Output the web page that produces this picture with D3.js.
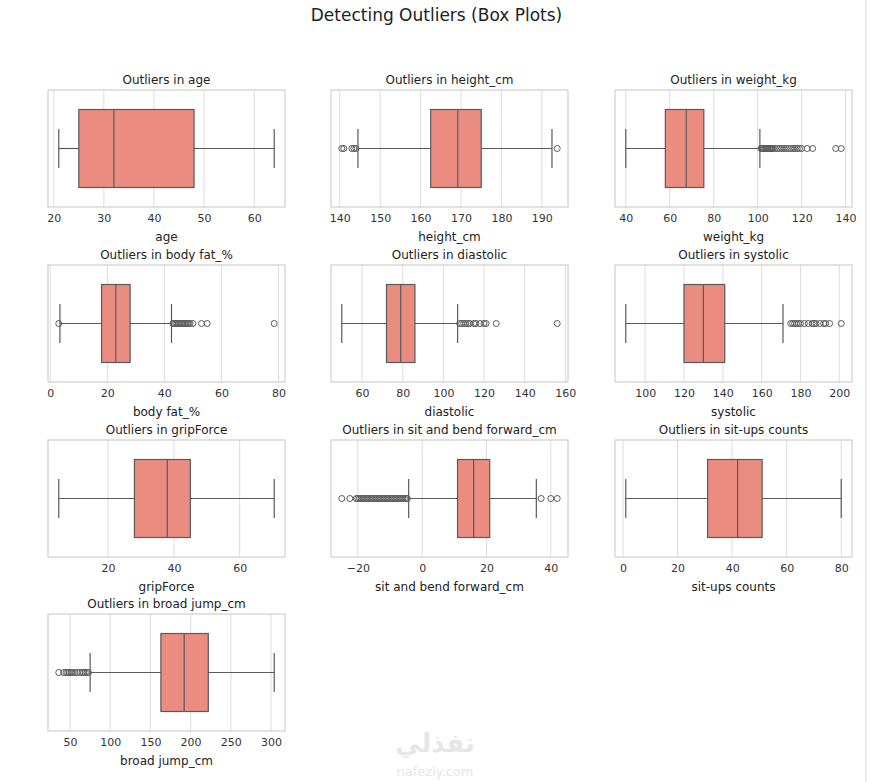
<!DOCTYPE html>
<html>
<head>
<meta charset="UTF-8">
<script src="https://cdn.jsdelivr.net/npm/d3@7"></script>
<style>
  body { margin: 0; background: #fff; font-family: "DejaVu Sans", sans-serif; }
</style>
</head>
<body>
<script>
// variable names, box stats [lowWhisker, q1, median, q3, highWhisker], outliers, tick values
var names = ["age", "height_cm", "weight_kg", "body fat_%", "diastolic", "systolic",
             "gripForce", "sit and bend forward_cm", "sit-ups counts", "broad jump_cm"];

var stats = [
    [21, 25, 32, 48, 64],
    [144.5, 162.5, 169.2, 175, 192.5],
    [40, 58, 67.5, 75.5, 101],
    [3.4, 18, 23, 28, 42.5],
    [50, 72, 79, 86, 107],
    [90, 120, 130, 141, 171],
    [5, 28, 38, 45, 70.5],
    [-4.2, 11, 16, 21, 35.5],
    [1, 31, 42, 51, 80],
    [75, 163, 192, 222, 304]
];

var outliers = [
    [],
    [140.5, 141, 143, 143.5, 144, 193.8],
    [101.5, 102, 102.5, 103, 103.5, 104, 104.5, 105, 105.5, 106, 106.5, 107, 108, 109, 110, 111, 112, 113, 114, 115, 116, 117, 118, 119, 120, 122.5, 125, 135.5, 138],
    [3, 43, 43.5, 44, 44.5, 45, 45.5, 46, 46.5, 47, 47.5, 48, 48.5, 49, 50, 53, 55, 78.5],
    [108, 109, 110, 111, 112, 113, 115, 116, 118, 120, 121, 126, 156],
    [175, 176, 177, 178, 179, 180, 182, 184, 186, 187, 188, 190, 192, 193, 195, 201],
    [],
    [-25, -22.5, -20.5, -20, -19.5, -19, -18.5, -18, -17.5, -17, -16.5, -16, -15.5, -15, -14.5, -14, -13.5, -13, -12.5, -12, -11.5, -11, -10.5, -10, -9.5, -9, -8.5, -8, -7.5, -7, -6.5, -6, -5.5, -5, -4.6, 37, 40, 42],
    [],
    [36, 42, 45, 47, 49, 51, 53, 56, 59, 62, 65, 67, 69, 71, 73]
];

var ticks = [
    [20, 30, 40, 50, 60],
    [140, 150, 160, 170, 180, 190],
    [40, 60, 80, 100, 120, 140],
    [0, 20, 40, 60, 80],
    [60, 80, 100, 120, 140, 160],
    [100, 120, 140, 160, 180, 200],
    [20, 40, 60],
    [-20, 0, 20, 40],
    [0, 20, 40, 60, 80],
    [50, 100, 150, 200, 250, 300]
];

var W = 873, H = 782;
var colX = [48, 331, 615], rowY = [90, 265, 440, 614];
var pw = 237, ph = 117;

var svg = d3.select("body").append("svg").attr("width", W).attr("height", H);

svg.append("text").attr("x", W / 2 - 0).attr("y", 21).attr("text-anchor", "middle")
    .attr("font-size", 17).attr("fill", "#222").text("Detecting Outliers (Box Plots)");

names.forEach(function (name, i) {
    var px = colX[i % 3], py = rowY[Math.floor(i / 3)];
    var g = svg.append("g").attr("transform", "translate(" + px + "," + py + ")");
    var all = stats[i].concat(outliers[i]);
    var lo = d3.min(all), hi = d3.max(all), pad = (hi - lo) * 0.05;
    var x = d3.scaleLinear().domain([lo - pad, hi + pad]).range([0, pw]);
    var y = d3.scaleBand().domain([name]).range([0, ph]).padding(0.2);
    var s = stats[i];
    var cy = y(name) + y.bandwidth() / 2;

    g.selectAll(".grid").data(ticks[i]).enter().append("line")
        .attr("x1", d => x(d)).attr("x2", d => x(d)).attr("y1", 0).attr("y2", ph)
        .attr("stroke", "#dcdcdc").attr("stroke-width", 1);

    g.append("rect").attr("width", pw).attr("height", ph)
        .attr("fill", "none").attr("stroke", "#cfcfcf").attr("stroke-width", 1.2);

    var line = "#5a5a5a";
    g.append("line").attr("x1", x(s[0])).attr("x2", x(s[1])).attr("y1", cy).attr("y2", cy).attr("stroke", line).attr("stroke-width", 1.2);
    g.append("line").attr("x1", x(s[3])).attr("x2", x(s[4])).attr("y1", cy).attr("y2", cy).attr("stroke", line).attr("stroke-width", 1.2);
    [s[0], s[4]].forEach(function (v) {
        g.append("line").attr("x1", x(v)).attr("x2", x(v))
            .attr("y1", cy - y.bandwidth() / 4).attr("y2", cy + y.bandwidth() / 4)
            .attr("stroke", line).attr("stroke-width", 1.2);
    });
    g.append("rect").attr("x", x(s[1])).attr("y", y(name))
        .attr("width", x(s[3]) - x(s[1])).attr("height", y.bandwidth())
        .attr("fill", "#ea8c80").attr("stroke", line).attr("stroke-width", 1.2);
    g.append("line").attr("x1", x(s[2])).attr("x2", x(s[2]))
        .attr("y1", y(name)).attr("y2", y(name) + y.bandwidth())
        .attr("stroke", line).attr("stroke-width", 1.2);

    g.selectAll(".flier").data(outliers[i]).enter().append("circle")
        .attr("cx", d => x(d)).attr("cy", cy).attr("r", 3)
        .attr("fill", "none").attr("stroke", "#5a5a5a").attr("stroke-width", 1);

    var ax = g.append("g").attr("transform", "translate(0," + ph + ")")
        .call(d3.axisBottom(x).tickValues(ticks[i]).tickSize(0).tickPadding(7)
            .tickFormat(d => d < 0 ? "\u2212" + Math.abs(d) : d));
    ax.select(".domain").remove();
    ax.selectAll("text").attr("font-size", 11).attr("fill", "#333")
        .attr("font-family", "DejaVu Sans, sans-serif");

    g.append("text").attr("x", pw / 2).attr("y", ph + 34).attr("text-anchor", "middle")
        .attr("font-size", 12).attr("fill", "#222").text(name);
    g.append("text").attr("x", pw / 2).attr("y", -6).attr("text-anchor", "middle")
        .attr("font-size", 12).attr("fill", "#222").text("Outliers in " + name);
});

// right edge divider and watermark
svg.append("line").attr("x1", 866).attr("x2", 866).attr("y1", 0).attr("y2", H)
    .attr("stroke", "#ddd");
svg.append("text").attr("x", 435).attr("y", 752).attr("text-anchor", "middle")
    .attr("font-size", 26).attr("font-weight", "bold").attr("fill", "#e6e6e6").text("نفذلي");
svg.append("text").attr("x", 435).attr("y", 776).attr("text-anchor", "middle")
    .attr("font-size", 13).attr("fill", "#e6e6e6").text("nafezly.com");
</script>
</body>
</html>
